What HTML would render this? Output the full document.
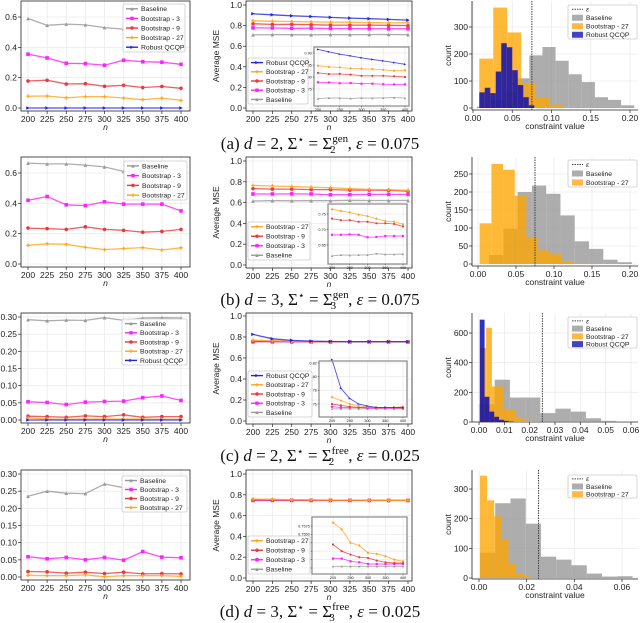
<!DOCTYPE html>
<html><head><meta charset="utf-8">
<style>
html,body{margin:0;padding:0;background:#fff;width:640px;height:623px;overflow:hidden}
svg{display:block}
text{font-family:"Liberation Sans","DejaVu Sans",sans-serif}
.cap{font-family:"Liberation Serif",serif;font-size:17px;fill:#111}
</style></head>
<body>
<svg id="fig" width="640" height="623" viewBox="0 0 640 623" xmlns="http://www.w3.org/2000/svg">
<text class="cap" x="320" y="149" text-anchor="middle">(a) <tspan font-style="italic">d</tspan> = 2, Σ<tspan dy="-6" font-size="11">⋆</tspan><tspan dy="6"> = Σ</tspan><tspan dy="-7" font-size="11">gen</tspan><tspan dx="-18" dy="11" font-size="11">2</tspan><tspan dx="12" dy="-4">, <tspan font-style="italic">ε</tspan> = 0.075</tspan></text>
<text class="cap" x="320" y="305" text-anchor="middle">(b) <tspan font-style="italic">d</tspan> = 3, Σ<tspan dy="-6" font-size="11">⋆</tspan><tspan dy="6"> = Σ</tspan><tspan dy="-7" font-size="11">gen</tspan><tspan dx="-18" dy="11" font-size="11">3</tspan><tspan dx="12" dy="-4">, <tspan font-style="italic">ε</tspan> = 0.075</tspan></text>
<text class="cap" x="320" y="461" text-anchor="middle">(c) <tspan font-style="italic">d</tspan> = 2, Σ<tspan dy="-6" font-size="11">⋆</tspan><tspan dy="6"> = Σ</tspan><tspan dy="-7" font-size="11">free</tspan><tspan dx="-20" dy="11" font-size="11">2</tspan><tspan dx="14" dy="-4">, <tspan font-style="italic">ε</tspan> = 0.025</tspan></text>
<text class="cap" x="320" y="617" text-anchor="middle">(d) <tspan font-style="italic">d</tspan> = 3, Σ<tspan dy="-6" font-size="11">⋆</tspan><tspan dy="6"> = Σ</tspan><tspan dy="-7" font-size="11">free</tspan><tspan dx="-20" dy="11" font-size="11">3</tspan><tspan dx="14" dy="-4">, <tspan font-style="italic">ε</tspan> = 0.025</tspan></text>
</svg>
<script>
// ---------- data ----------
const nValues=[200,225,250,275,300,325,350,375,400];
const nTickLabels=["200","225","250","275","300","325","350","375","400"];
const insetTickLabels=["200","250","300","350","400"];
// row a violations
const aViolBaseline=[0.59,0.545,0.553,0.548,0.53,0.52,0.515,0.52,0.53];
const aViolB3=[0.355,0.33,0.295,0.293,0.282,0.315,0.305,0.302,0.288];
const aViolB9=[0.178,0.183,0.158,0.16,0.143,0.15,0.135,0.142,0.13];
const aViolB27=[0.078,0.079,0.067,0.075,0.075,0.066,0.055,0.065,0.05];
const aViolRobust=[0,0,0,0,0,0,0,0,0];
// row a MSE
const aMseRobust=[0.915,0.905,0.895,0.888,0.88,0.873,0.867,0.86,0.853];
const aMseB27=[0.847,0.842,0.84,0.836,0.834,0.833,0.83,0.826,0.828];
const aMseB9=[0.817,0.812,0.813,0.81,0.805,0.805,0.805,0.803,0.8];
const aMseB3=[0.778,0.777,0.774,0.775,0.772,0.772,0.77,0.769,0.769];
const aMseBaseline=[0.71,0.713,0.712,0.711,0.713,0.712,0.713,0.714,0.712];
// row a hist
const aHistGray=[5,30,60,110,195,226,175,125,96,40,30,10];
const aHistOrange=[183,372,280,90,40,12,3];
const aHistBlue=[58,75,55,135,240,225,140,85,40,10];
// row b
const bViolBaseline=[0.665,0.66,0.66,0.652,0.64,0.61,0.605,0.615,0.625];
const bViolB3=[0.42,0.445,0.39,0.385,0.41,0.395,0.395,0.395,0.35];
const bViolB9=[0.237,0.233,0.228,0.245,0.228,0.222,0.21,0.215,0.228];
const bViolB27=[0.123,0.133,0.13,0.11,0.095,0.102,0.108,0.092,0.107];
const bMseB27=[0.765,0.76,0.755,0.748,0.743,0.735,0.727,0.725,0.717];
const bMseB9=[0.735,0.73,0.73,0.725,0.725,0.72,0.72,0.718,0.71];
const bMseB3=[0.683,0.683,0.684,0.683,0.675,0.676,0.679,0.679,0.679];
const bMseBaseline=[0.615,0.618,0.617,0.618,0.618,0.622,0.62,0.62,0.621];
const bHistGray=[25,98,200,218,195,135,63,42,12,5];
const bHistOrange=[113,278,262,190,75,38,27,8,3];
// row c
const cViolBaseline=[0.292,0.289,0.291,0.29,0.298,0.29,0.297,0.298,0.297];
const cViolB3=[0.053,0.051,0.045,0.052,0.054,0.055,0.065,0.07,0.057];
const cViolB9=[0.011,0.01,0.008,0.012,0.01,0.015,0.008,0.01,0.01];
const cViolB27=[0.006,0.003,0.002,0.003,0.003,0.003,0.003,0.002,0.002];
const cViolRobust=[0,0,0,0,0,0,0,0,0];
const cMseRobust=[0.825,0.783,0.768,0.76,0.757,0.755,0.755,0.755,0.755];
const cMseB27=[0.77,0.765,0.76,0.757,0.756,0.755,0.755,0.755,0.756];
const cMseB9=[0.76,0.758,0.756,0.755,0.755,0.755,0.755,0.755,0.754];
const cMseB3=[0.756,0.755,0.755,0.755,0.754,0.754,0.754,0.754,0.754];
const cMseBaseline=[0.753,0.753,0.753,0.753,0.753,0.753,0.753,0.753,0.753];
const cHistGray=[120,285,165,165,60,90,70,25,8,2];
const cHistOrange=[500,635,240,240,85,85,35,20,8,3];
const cHistBlue=[690,170,70,35,15,8,3];
// row d
const dViolBaseline=[0.235,0.25,0.244,0.243,0.271,0.26,0.262,0.265,0.272];
const dViolB3=[0.059,0.053,0.057,0.05,0.057,0.049,0.074,0.058,0.056];
const dViolB9=[0.016,0.015,0.011,0.014,0.01,0.014,0.009,0.01,0.009];
const dViolB27=[0.005,0.004,0.004,0.006,0.001,0.004,0.004,0.004,0.002];
const dMseB27=[0.7585,0.7565,0.7525,0.7517,0.7495,0.7492,0.7485,0.7475,0.747];
const dMseB9=[0.752,0.75,0.749,0.7482,0.748,0.7472,0.7467,0.7465,0.7465];
const dMseB3=[0.7478,0.7478,0.747,0.7467,0.7462,0.7462,0.7462,0.7462,0.7462];
const dMseBaseline=[0.7455,0.7455,0.7455,0.7455,0.7455,0.7455,0.7455,0.7455,0.7455];
const dHistGray=[85,252,268,183,72,62,43,15,5,6];
const dHistOrange=[345,262,208,128,48,15,8,3];

// ---------- drawing ----------
const NS="http://www.w3.org/2000/svg";
const svg=document.getElementById('fig');
const COL={gray:'#999999',mag:'#ff22ff',red:'#e8393e',orange:'#ffa51a',blue:'#2525e0'};
function el(tag,attrs,parent){const e=document.createElementNS(NS,tag);for(const k in attrs)e.setAttribute(k,attrs[k]);(parent||svg).appendChild(e);return e;}
function lin(v0,p0,v1,p1){return v=>p0+(v-v0)*(p1-p0)/(v1-v0);}
function marker(g,type,x,y,c,s){
  let m;
  if(type==='s')m=el('rect',{x:x-s,y:y-s,width:2*s,height:2*s,fill:c},g);
  else if(type==='^')m=el('polygon',{points:`${x},${y-s} ${x-s},${y+s} ${x+s},${y+s}`,fill:c},g);
  else if(type==='>')m=el('polygon',{points:`${x+s},${y} ${x-s},${y-s} ${x-s},${y+s}`,fill:c},g);
  else if(type==='x'){m=el('path',{d:`M${x-s},${y}H${x+s}M${x},${y-s}V${y+s}`,stroke:c,'stroke-width':1.2},g);}
  else m=el('circle',{cx:x,cy:y,r:s,fill:c},g);
  
  
}
const SER={Baseline:[COL.gray,'^'],'Bootstrap - 3':[COL.mag,'s'],'Bootstrap - 9':[COL.red,'*'],'Bootstrap - 27':[COL.orange,'x'],'Robust QCQP':[COL.blue,'>']};

function drawSeries(g,xs,ys,vals,name,sw,ms){
  const [c,mk]=SER[name];
  const d=vals.map((v,i)=>(i?'L':'M')+xs(nValues[i]).toFixed(1)+','+ys(v).toFixed(1)).join('');
  const p=el('path',{d:d,fill:'none',stroke:c,'stroke-width':sw,'stroke-opacity':0.8},g);
  
  
  vals.forEach((v,i)=>marker(g,mk,xs(nValues[i]),ys(v),c,ms));
}
function legend(g,x,y,w,h,entries,kind,fs){
  const r=el('rect',{x:x,y:y,width:w,height:h,fill:'#fff','fill-opacity':0.9,stroke:'#ccc','stroke-width':0.8,rx:1.5},g);
  
  
  const step=h/entries.length;
  entries.forEach((nm,i)=>{
    const cy=y+step*(i+0.5);
    if(kind==='hist'){
      if(nm==='ε'){const l=el('line',{x1:x+4,x2:x+15,y1:cy,y2:cy,stroke:'#444','stroke-dasharray':'1.5,1','stroke-width':1},g);}
      else{const c=nm==='Baseline'?COL.gray:nm==='Robust QCQP'?'#1414b8':COL.orange;const s=el('rect',{x:x+4,y:cy-3,width:11,height:6,fill:c,'fill-opacity':0.8},g);}
    } else {
      const [c,mk]=SER[nm];
      const l=el('line',{x1:x+3,x2:x+15,y1:cy,y2:cy,stroke:c,'stroke-width':1.4},g);
      
      
      marker(g,mk,x+9,cy,c,1.7);
    }
    const t=el('text',{x:x+18,y:cy+fs*0.35,'font-size':fs,fill:'#222','font-style':nm==='ε'?'italic':'normal'},g);
    t.textContent=nm;
    
    
  });
}
function axes(g,box,xs,ys,xticks,xlabels,yticks,ylabels,fs,grid,tickLen){
  if(grid){
    xticks.forEach(v=>el('line',{x1:xs(v),x2:xs(v),y1:box.t,y2:box.b,stroke:'#ebebeb','stroke-width':0.8},g));
    yticks.forEach(v=>el('line',{x1:box.l,x2:box.r,y1:ys(v),y2:ys(v),stroke:'#ebebeb','stroke-width':0.8},g));
  }
  const fr=el('rect',{x:box.l,y:box.t,width:box.r-box.l,height:box.b-box.t,fill:'none',stroke:box.frame||'#222','stroke-width':0.8},g);
  
  
  xticks.forEach((v,i)=>{
    el('line',{x1:xs(v),x2:xs(v),y1:box.b,y2:box.b+tickLen,stroke:'#222','stroke-width':0.7},g);
    const t=el('text',{x:xs(v),y:box.b+tickLen+fs*0.95,'font-size':fs,'text-anchor':'middle',fill:'#222'},g);
    t.textContent=xlabels[i];
    
    
  });
  yticks.forEach((v,i)=>{
    el('line',{x1:box.l-tickLen,x2:box.l,y1:ys(v),y2:ys(v),stroke:'#222','stroke-width':0.7},g);
    const t=el('text',{x:box.l-tickLen-1,y:ys(v)+fs*0.35,'font-size':fs,'text-anchor':'end',fill:'#222'},g);
    t.textContent=ylabels[i];
    
    
  });
}
function axisTitles(g,box,xl,yl,yx,italicX){
  const t=el('text',{x:(box.l+box.r)/2,y:box.b+19,'font-size':8.5,'text-anchor':'middle',fill:'#222','font-style':italicX?'italic':'normal'},g);
  t.textContent=xl;
  
  
  const cy=(box.t+box.b)/2;
  const y=el('text',{x:yx,y:cy,'font-size':8.5,'text-anchor':'middle',fill:'#222',transform:`rotate(-90 ${yx} ${cy})`},g);
  y.textContent=yl;
  
  
}
function fmt(v,d){return v.toFixed(d);}

function linePanel(name,box,ymap,yticks,ydec,ytitle,seriesList,leg,inset){
  const g=el('g',{});
  
  
  const xs=lin(200,box.x200,400,box.x400);
  const ys=lin(ymap[0],ymap[1],ymap[2],ymap[3]);
  axes(g,box,xs,ys,nValues,nTickLabels,yticks,yticks.map(v=>fmt(v,ydec)),8.5,true,3);
  axisTitles(g,box,'n',ytitle,box.l-27,true);
  seriesList.forEach(([vals,nm])=>drawSeries(g,xs,ys,vals,nm,1.3,1.8));
  if(inset){
    const ig=el('g',{},g);
    
    
    const ib={l:inset.box[0],r:inset.box[1],t:inset.box[2],b:inset.box[3],frame:'#888'};
    el('rect',{x:ib.l,y:ib.t,width:ib.r-ib.l,height:ib.b-ib.t,fill:'#fff'},ig);
    const ixs=lin(200,inset.x[0],400,inset.x[1]);
    const iys=lin(inset.y[0],inset.y[1],inset.y[2],inset.y[3]);
    axes(ig,ib,ixs,iys,[200,250,300,350,400],insetTickLabels,inset.ticks,inset.ticks.map(v=>fmt(v,inset.dec)),3.8,true,1.2);
    inset.series.forEach(([vals,nm])=>drawSeries(ig,ixs,iys,vals,nm,0.9,1.1));
    el('rect',{x:ib.l,y:ib.t,width:ib.r-ib.l,height:ib.b-ib.t,fill:'none',stroke:'#888','stroke-width':1.2},ig);
  }
  legend(g,leg[0],leg[1],leg[2],leg[3],leg[4],'line',6.8);
}
function bars(g,xs,ys,start,width,counts,color,op,nm){
  counts.forEach((c,i)=>{
    const x0=xs(start+i*width),x1=xs(start+(i+1)*width);
    const r=el('rect',{x:x0,y:ys(c),width:x1-x0,height:ys(0)-ys(c),fill:color,'fill-opacity':op},g);
    
    
  });
}
function histPanel(name,box,xmap,ymap,xticks,xdec,yticks,hists,eps,leg){
  const g=el('g',{});
  
  
  const xs=lin(0,xmap[0],xmap[1],xmap[2]);
  const ys=lin(0,ymap[0],ymap[1],ymap[2]);
  axes(g,{...box,frame:'#fff'},xs,ys,xticks,xticks.map(v=>fmt(v,xdec)),yticks,yticks.map(v=>String(v)),8.5,true,3);
  el('line',{x1:box.l,x2:box.l,y1:box.t,y2:box.b,stroke:'#222','stroke-width':0.8},g);
  el('line',{x1:box.l,x2:box.r,y1:box.b,y2:box.b,stroke:'#222','stroke-width':0.8},g);
  axisTitles(g,box,'constraint value','count',box.l-21,false);
  hists.forEach(h=>bars(g,xs,ys,h[0],h[1],h[2],h[3],h[4],h[5]));
  const e=el('line',{x1:xs(eps),x2:xs(eps),y1:box.t,y2:box.b,stroke:'#333','stroke-width':0.9,'stroke-dasharray':'1.5,1'},g);
  
  
  legend(g,leg[0],leg[1],leg[2],leg[3],leg[4],'hist',6.8);
}

// ---- row a ----
linePanel('violations-plot-a',{l:21,r:190,t:1,b:111,x200:28,x400:181},[0,108,0.6,17],[0,0.2,0.4,0.6],1,'# violations',
 [[aViolBaseline,'Baseline'],[aViolB3,'Bootstrap - 3'],[aViolB9,'Bootstrap - 9'],[aViolB27,'Bootstrap - 27'],[aViolRobust,'Robust QCQP']],
 [123,4,62,48,['Baseline','Bootstrap - 3','Bootstrap - 9','Bootstrap - 27','Robust QCQP']]);
linePanel('mse-plot-a',{l:246,r:412,t:1,b:111,x200:253,x400:408},[0,108,1,5],[0,0.2,0.4,0.6,0.8,1.0],1,'Average MSE',
 [[aMseBaseline,'Baseline'],[aMseB3,'Bootstrap - 3'],[aMseB9,'Bootstrap - 9'],[aMseB27,'Bootstrap - 27'],[aMseRobust,'Robust QCQP']],
 [248,58,60,46,['Robust QCQP','Bootstrap - 27','Bootstrap - 9','Bootstrap - 3','Baseline']],
 {box:[314,409,47,106],x:[318,405],y:[0.9,53,0.75,89],ticks:[0.75,0.8,0.85,0.9],dec:2,
  series:[[aMseBaseline,'Baseline'],[aMseB3,'Bootstrap - 3'],[aMseB9,'Bootstrap - 9'],[aMseB27,'Bootstrap - 27'],[aMseRobust,'Robust QCQP']]});
histPanel('histogram-a',{l:472,r:638,t:1,b:110},[473,0.2,630],[108,300,27],[0,0.05,0.1,0.15,0.2],2,[0,100,200,300],
 [[0.005,0.0167,aHistGray,COL.gray,0.8,'bar-baseline'],[0.008,0.0178,aHistOrange,'#ffa500',0.78,'bar-bootstrap-27'],[0.008,0.0070,aHistBlue,'#0c0cb0',0.85,'bar-robust-qcqp']],
 0.075,[568,5,69,34,['ε','Baseline','Bootstrap - 27','Robust QCQP']]);
// ---- row b ----
linePanel('violations-plot-b',{l:21,r:190,t:157,b:267,x200:28,x400:181},[0,264,0.6,173],[0,0.2,0.4,0.6],1,'# violations',
 [[bViolBaseline,'Baseline'],[bViolB3,'Bootstrap - 3'],[bViolB9,'Bootstrap - 9'],[bViolB27,'Bootstrap - 27']],
 [124,161,63,39,['Baseline','Bootstrap - 3','Bootstrap - 9','Bootstrap - 27']]);
linePanel('mse-plot-b',{l:246,r:412,t:157,b:268,x200:253,x400:408},[0,265,1,161],[0,0.2,0.4,0.6,0.8,1.0],1,'Average MSE',
 [[bMseBaseline,'Baseline'],[bMseB3,'Bootstrap - 3'],[bMseB9,'Bootstrap - 9'],[bMseB27,'Bootstrap - 27']],
 [248,222,62,38,['Bootstrap - 27','Bootstrap - 9','Bootstrap - 3','Baseline']],
 {box:[328,407,204,264],x:[332,403],y:[0.75,214,0.65,245],ticks:[0.65,0.7,0.75],dec:2,
  series:[[bMseBaseline,'Baseline'],[bMseB3,'Bootstrap - 3'],[bMseB9,'Bootstrap - 9'],[bMseB27,'Bootstrap - 27']]});
histPanel('histogram-b',{l:472,r:638,t:157,b:266},[478,0.2,630],[264,250,174],[0,0.05,0.1,0.15,0.2],2,[0,50,100,150,200,250],
 [[0.0145,0.0188,bHistGray,COL.gray,0.8,'bar-baseline'],[0.0022,0.0154,bHistOrange,'#ffa500',0.78,'bar-bootstrap-27']],
 0.075,[568,160,69,27,['ε','Baseline','Bootstrap - 27']]);
// ---- row c ----
linePanel('violations-plot-c',{l:21,r:190,t:313,b:423,x200:28,x400:181},[0,420,0.3,317],[0,0.05,0.1,0.15,0.2,0.25,0.3],2,'# violations',
 [[cViolBaseline,'Baseline'],[cViolB3,'Bootstrap - 3'],[cViolB9,'Bootstrap - 9'],[cViolB27,'Bootstrap - 27'],[cViolRobust,'Robust QCQP']],
 [122,319,65,46,['Baseline','Bootstrap - 3','Bootstrap - 9','Bootstrap - 27','Robust QCQP']]);
linePanel('mse-plot-c',{l:246,r:412,t:313,b:424,x200:253,x400:408},[0,421,1,316],[0,0.2,0.4,0.6,0.8,1.0],1,'Average MSE',
 [[cMseBaseline,'Baseline'],[cMseB3,'Bootstrap - 3'],[cMseB9,'Bootstrap - 9'],[cMseB27,'Bootstrap - 27'],[cMseRobust,'Robust QCQP']],
 [248,371,64,46,['Robust QCQP','Bootstrap - 27','Bootstrap - 9','Bootstrap - 3','Baseline']],
 {box:[319,407,361,417],x:[332,403],y:[0.82,363,0.76,404],ticks:[0.76,0.78,0.8,0.82],dec:2,
  series:[[cMseBaseline,'Baseline'],[cMseB3,'Bootstrap - 3'],[cMseB9,'Bootstrap - 9'],[cMseB27,'Bootstrap - 27'],[cMseRobust,'Robust QCQP']]});
histPanel('histogram-c',{l:472,r:638,t:313,b:422},[479,0.06,631],[422,600,333],[0,0.01,0.02,0.03,0.04,0.05,0.06],2,[0,200,400,600],
 [[0.0002,0.006,cHistGray,COL.gray,0.8,'bar-baseline'],[0.0005,0.0023,cHistOrange,'#ffa500',0.78,'bar-bootstrap-27'],[0.0003,0.0019,cHistBlue,'#0c0cb0',0.85,'bar-robust-qcqp']],
 0.025,[568,317,69,31,['ε','Baseline','Bootstrap - 27','Robust QCQP']]);
// ---- row d ----
linePanel('violations-plot-d',{l:21,r:190,t:470,b:580,x200:28,x400:181},[0,577,0.3,474],[0,0.05,0.1,0.15,0.2,0.25,0.3],2,'# violations',
 [[dViolBaseline,'Baseline'],[dViolB3,'Bootstrap - 3'],[dViolB9,'Bootstrap - 9'],[dViolB27,'Bootstrap - 27']],
 [122,476,65,36,['Baseline','Bootstrap - 3','Bootstrap - 9','Bootstrap - 27']]);
linePanel('mse-plot-d',{l:246,r:412,t:470,b:581,x200:253,x400:408},[0,578,1,474],[0,0.2,0.4,0.6,0.8,1.0],1,'Average MSE',
 [[dMseBaseline,'Baseline'],[dMseB3,'Bootstrap - 3'],[dMseB9,'Bootstrap - 9'],[dMseB27,'Bootstrap - 27']],
 [248,536,62,38,['Bootstrap - 27','Bootstrap - 9','Bootstrap - 3','Baseline']],
 {box:[312,407,517,574],x:[333,403],y:[0.7575,526,0.745,568],ticks:[0.745,0.7475,0.75,0.7525,0.755,0.7575],dec:4,
  series:[[dMseBaseline,'Baseline'],[dMseB3,'Bootstrap - 3'],[dMseB9,'Bootstrap - 9'],[dMseB27,'Bootstrap - 27']]});
histPanel('histogram-d',{l:472,r:638,t:470,b:579},[479,0.06,622],[578,300,489],[0,0.02,0.04,0.06],2,[0,100,200,300],
 [[0.0004,0.0064,dHistGray,COL.gray,0.8,'bar-baseline'],[0.0004,0.003,dHistOrange,'#ffa500',0.78,'bar-bootstrap-27']],
 0.025,[568,475,69,23,['ε','Baseline','Bootstrap - 27']]);
</script>
</body></html>
